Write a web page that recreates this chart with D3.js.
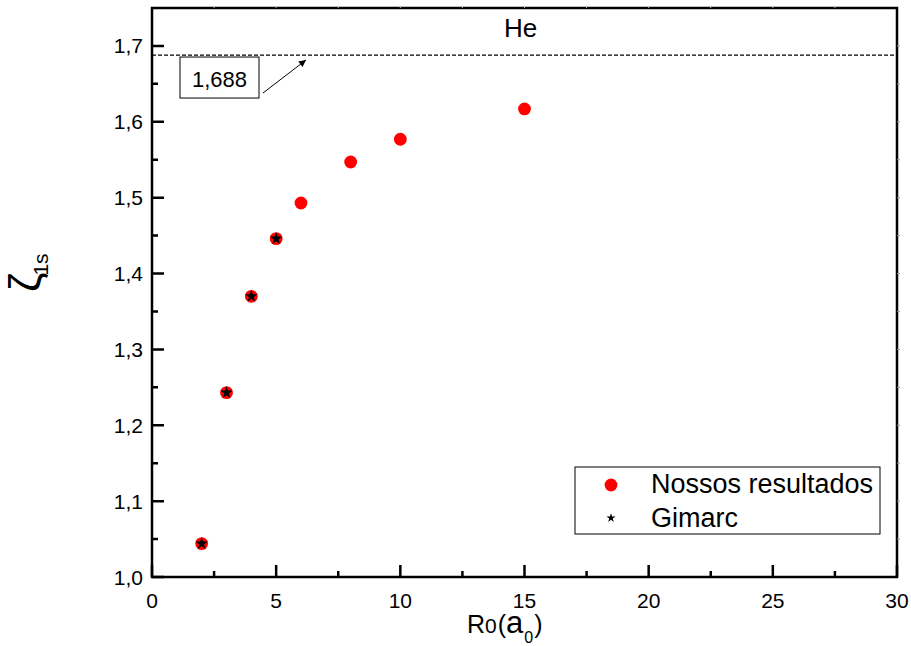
<!DOCTYPE html>
<html>
<head>
<meta charset="utf-8">
<script src="https://cdn.jsdelivr.net/npm/d3@7"></script>
<style>
  body { margin: 0; background: #fff; }
  svg { display: block; font-family: Arial, "Liberation Sans", sans-serif; }
</style>
</head>
<body>
<svg id="chart" width="911" height="646"></svg>
<script>
// Orbital exponent of He 1s as a function of confinement radius R0
const radii = [2, 3, 4, 5, 6, 8, 10, 15];
const zetaOurs = [1.044, 1.243, 1.370, 1.446, 1.493, 1.547, 1.577, 1.617];
const radiiGimarc = [2, 3, 4, 5];
const zetaGimarc = [1.044, 1.243, 1.370, 1.446];
const freeAtomZeta = 1.688;
const freeAtomLabel = "1,688";
const xTicks = [0, 5, 10, 15, 20, 25, 30];
const yTicks = [1.0, 1.1, 1.2, 1.3, 1.4, 1.5, 1.6, 1.7];
const legendLabels = ["Nossos resultados", "Gimarc"];

(function draw() {
  const svg = d3.select("#chart");
  const plotLeft = 152, plotRight = 897, plotTop = 8, plotBottom = 577;
  const font = "Arial, 'Liberation Sans', sans-serif";

  const x = d3.scaleLinear().domain([0, 30]).range([plotLeft, plotRight]);
  const y = d3.scaleLinear().domain([1.0, 1.75]).range([plotBottom, plotTop]);
  const fmt = d => d3.format(".1f")(d).replace(".", ",");

  // arrowhead marker
  svg.append("defs").append("marker")
    .attr("id", "arrow").attr("viewBox", "0 0 10 10")
    .attr("refX", 10).attr("refY", 5)
    .attr("markerWidth", 13).attr("markerHeight", 7)
    .attr("markerUnits", "userSpaceOnUse")
    .attr("orient", "auto")
    .append("path").attr("d", "M0,0 L10,5 L0,10 Z").attr("fill", "#000");

  // frame
  svg.append("rect").attr("x", plotLeft).attr("y", plotTop)
    .attr("width", plotRight - plotLeft).attr("height", plotBottom - plotTop)
    .attr("fill", "none").attr("stroke", "#000").attr("stroke-width", 2.5);

  // bottom axis: inward ticks (major 12px, minor 6px every 2.5), labels below
  const xMinor = d3.range(2.5, 30, 5);
  const xTickPath = xTicks.map(v => `M${x(v)},${plotBottom}V${plotBottom - 12}`)
    .concat(xMinor.map(v => `M${x(v)},${plotBottom}V${plotBottom - 6}`)).join("");
  svg.append("path").attr("d", xTickPath).attr("fill", "none")
    .attr("stroke", "#000").attr("stroke-width", 2.5);
  svg.append("g").selectAll("text").data(xTicks).enter().append("text")
    .attr("x", d => x(d)).attr("y", plotBottom + 31).attr("text-anchor", "middle")
    .attr("font-size", 21).attr("font-family", font).text(d3.format("d"));

  // left axis: inward ticks (major every 0.1, minor at the halves), labels on the left
  const yMinor = d3.range(1.05, 1.75, 0.1);
  const yTickPath = yTicks.map(v => `M${plotLeft},${y(v)}H${plotLeft + 12}`)
    .concat(yMinor.map(v => `M${plotLeft},${y(v)}H${plotLeft + 6}`)).join("");
  svg.append("path").attr("d", yTickPath).attr("fill", "none")
    .attr("stroke", "#000").attr("stroke-width", 2.5);
  svg.append("g").selectAll("text").data(yTicks).enter().append("text")
    .attr("x", plotLeft - 9).attr("y", d => y(d) + 7.5).attr("text-anchor", "end")
    .attr("font-size", 21).attr("font-family", font).text(fmt);

  // top and right axes: faint outward ticks
  svg.append("path").attr("d", d3.range(2.5, 30, 2.5).map(v => `M${x(v)},${plotTop}V${plotTop - 2}`).join(""))
    .attr("stroke", "#bbb").attr("stroke-width", 1);
  svg.append("path").attr("d", d3.range(1.05, 1.75, 0.05).map(v => `M${plotRight},${y(v)}H${plotRight + 3}`).join(""))
    .attr("stroke", "#999").attr("stroke-width", 1);

  // free-atom reference line
  const yRef = y(freeAtomZeta);
  svg.append("line")
    .attr("x1", plotLeft).attr("x2", plotRight).attr("y1", yRef).attr("y2", yRef)
    .attr("stroke", "#000").attr("stroke-width", 1.2).attr("stroke-dasharray", "4,2");

  // annotation box with arrow
  svg.append("rect").attr("x", 180).attr("y", yRef + 2).attr("width", 79).attr("height", 41)
    .attr("fill", "#fff").attr("stroke", "#000").attr("stroke-width", 1);
  svg.append("text").attr("x", 219.5).attr("y", yRef + 32)
    .attr("text-anchor", "middle").attr("font-size", 22).text(freeAtomLabel);
  svg.append("line").attr("x1", 263).attr("y1", 93).attr("x2", x(6.2)).attr("y2", yRef + 5)
    .attr("stroke", "#000").attr("stroke-width", 1).attr("marker-end", "url(#arrow)");

  svg.append("text").attr("x", 520.5).attr("y", 37).attr("text-anchor", "middle")
    .attr("font-size", 26).text("He");

  // data marks
  const star = d3.symbol().type(d3.symbolStar).size(48);
  svg.append("g").selectAll("circle").data(radii).enter().append("circle")
    .attr("cx", d => x(d)).attr("cy", (d, i) => y(zetaOurs[i])).attr("r", 6.4).attr("fill", "#ff0000");
  svg.append("g").selectAll("path").data(radiiGimarc).enter().append("path")
    .attr("d", star).attr("transform", (d, i) => `translate(${x(d)},${y(zetaGimarc[i])})`).attr("fill", "#000");

  // legend
  const lg = svg.append("g");
  lg.append("rect").attr("x", 575).attr("y", 467).attr("width", 305).attr("height", 67)
    .attr("fill", "#fff").attr("stroke", "#000").attr("stroke-width", 1);
  lg.append("circle").attr("cx", 611).attr("cy", 485).attr("r", 6.4).attr("fill", "#ff0000");
  lg.append("path").attr("d", d3.symbol().type(d3.symbolStar).size(26)).attr("transform", "translate(611,518)").attr("fill", "#000");
  lg.selectAll("text").data(legendLabels).enter().append("text")
    .attr("x", 651).attr("y", (d, i) => 493 + i * 34).attr("font-size", 27).text(d => d);

  // axis titles
  const xt = svg.append("text").attr("x", 467).attr("y", 633).attr("font-size", 25);
  xt.append("tspan").text("R");
  xt.append("tspan").attr("font-size", 21).text("0");
  xt.append("tspan").attr("dx", 1).text("(");
  xt.append("tspan").attr("font-size", 31).text("a");
  xt.append("tspan").attr("font-size", 16).attr("dy", 10).attr("dx", 1).text("0");
  xt.append("tspan").attr("dy", -10).attr("dx", 1).text(")");

  const yt = svg.append("text").attr("transform", "translate(40,292) rotate(-90)").attr("font-size", 44);
  yt.append("tspan").text("ζ");
  yt.append("tspan").attr("font-size", 21).attr("dy", 8).attr("dx", -3).text("1s");
})();
</script>
</body>
</html>
